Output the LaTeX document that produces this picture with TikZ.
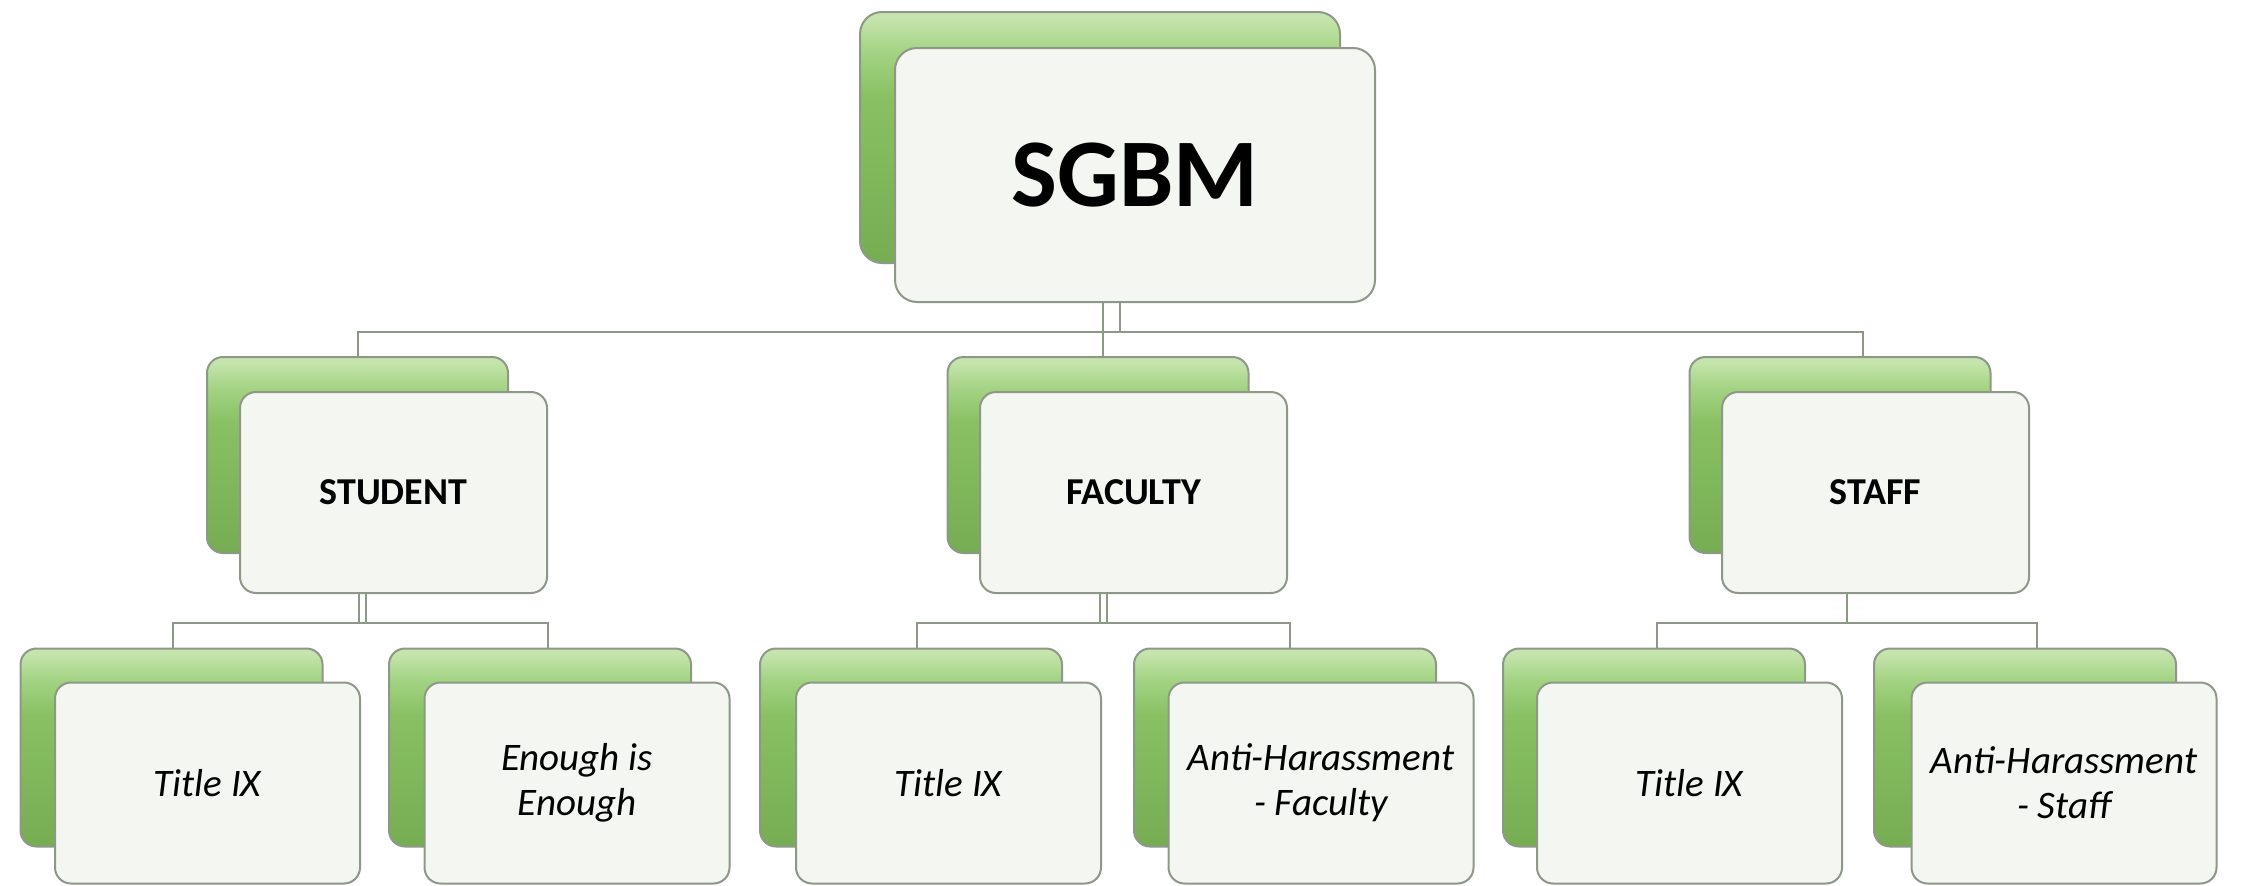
\documentclass[tikz,border=0pt]{standalone}
\usepackage{fontspec}
\setmainfont{Carlito}
\usetikzlibrary{calc}
\definecolor{gtop}{HTML}{C6E5AE}
\definecolor{glight}{HTML}{A3D383}
\definecolor{gmid}{HTML}{88C063}
\definecolor{gbot}{HTML}{76AD53}
\definecolor{edge}{HTML}{8E9888}
\definecolor{ffill}{HTML}{F4F6F1}
\pgfdeclareverticalshading{backshade}{100bp}{color(0bp)=(gbot); color(25bp)=(gbot); color(58bp)=(gmid); color(67bp)=(glight); color(74bp)=(gtop); color(100bp)=(gtop)}
\tikzset{x=1pt,y=-1pt,
 backbox/.style={draw=edge, line width=2pt, rounded corners=16pt, shading=backshade, minimum width=302pt, minimum height=198pt, inner sep=0pt},
 frontbox/.style={draw=edge, line width=2pt, rounded corners=16pt, fill=ffill, minimum width=305pt, minimum height=201pt, inner sep=0pt, align=center},
 midtext/.style={font=\fontsize{38}{44}\selectfont\bfseries},
 leaftext/.style={font=\fontsize{39}{45}\selectfont\itshape},
 conn/.style={draw=edge, line width=2pt}}
\begin{document}
\begin{tikzpicture}
\useasboundingbox (0,0) rectangle (2257,886);
\fill[white] (0,0) rectangle (2257,886);
% top
\node[backbox, minimum width=480pt, minimum height=251pt, rounded corners=22pt] (sgbmB) at (1100,137.5) {};
\node[frontbox, minimum width=480pt, minimum height=254pt, rounded corners=22pt] (sgbm) at (1135,175) {\fontsize{97}{104}\selectfont\bfseries SGBM};
% middle
\node[backbox, minimum width=301pt, minimum height=196pt] (studentB) at (357.5,455) {};
\node[frontbox, minimum width=307pt, minimum height=201pt, midtext] (student) at (393.5,492.5) {STUDENT};
\node[backbox, minimum width=301pt, minimum height=196pt] (facultyB) at (1098,455) {};
\node[frontbox, minimum width=307pt, minimum height=201pt, midtext] (faculty) at (1133.5,492.5) {FACULTY};
\node[backbox, minimum width=301pt, minimum height=196pt] (staffB) at (1840,455) {};
\node[frontbox, minimum width=307pt, minimum height=201pt, midtext] (staff) at (1875.5,492.5) {STAFF};
% leaves
\node[backbox] (s1B) at (171.5,747.5) {};
\node[frontbox, leaftext] (s1) at (207.5,783) {Title IX};
\node[backbox] (s2B) at (540,747.5) {};
\node[frontbox, leaftext] (s2) at (577,783) {Enough is\\Enough};
\node[backbox] (f1B) at (911,747.5) {};
\node[frontbox, leaftext] (f1) at (948.5,783) {Title IX};
\node[backbox] (f2B) at (1285,747.5) {};
\node[frontbox, leaftext] (f2) at (1321,783) {Anti-Harassment\\- Faculty};
\node[backbox] (t1B) at (1654,747.5) {};
\node[frontbox, leaftext] (t1) at (1689.5,783) {Title IX};
\node[backbox] (t2B) at (2025,747.5) {};
\node[frontbox, leaftext] (t2) at (2064,783) {Anti-Harassment\\- Staff};
% top connectors
\draw[conn] ([xshift=-15pt]sgbm.south) -- ++(0,29) coordinate (topbus);
\coordinate (stN) at ([xshift=23pt]staffB.north);
\draw[conn] (studentB.north) |- (stN |- topbus) -- (stN);
\draw[conn] ([xshift=-32pt]sgbm.south) -- ([xshift=5pt]facultyB.north);
% student children
\draw[conn] ($(studentB.center |- student.south)+(1.5,0)$) -- ++(0,29) coordinate (sbus);
\draw[conn] ($(studentB.center |- student.south)+(8.5,0)$) -- ++(0,29);
\coordinate (s2N) at ([xshift=8pt]s2B.north);
\draw[conn] ([xshift=1.5pt]s1B.north) |- (s2N |- sbus) -- (s2N);
% faculty children
\draw[conn] ($(facultyB.center |- faculty.south)+(2,0)$) -- ++(0,29) coordinate (fbus);
\draw[conn] ($(facultyB.center |- faculty.south)+(9,0)$) -- ++(0,29);
\coordinate (f2N) at ([xshift=5pt]f2B.north);
\draw[conn] ([xshift=6pt]f1B.north) |- (f2N |- fbus) -- (f2N);
% staff children
\draw[conn] ($(staffB.center |- staff.south)+(7,0)$) -- ++(0,29) coordinate (tbus);
\coordinate (t2N) at ([xshift=12pt]t2B.north);
\draw[conn] ([xshift=3pt]t1B.north) |- (t2N |- tbus) -- (t2N);
\end{tikzpicture}
\end{document}
